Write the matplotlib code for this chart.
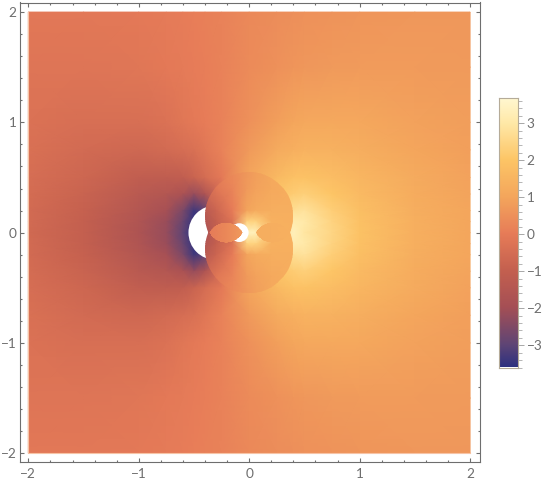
import numpy as np
import matplotlib
matplotlib.use("Agg")
import matplotlib.pyplot as plt
from matplotlib.colors import LinearSegmentedColormap, Normalize
from matplotlib.patches import Circle, Polygon
from matplotlib.ticker import MultipleLocator, FuncFormatter

plt.rcParams['font.family'] = ['Lato', 'DejaVu Sans']

# values
vmin, vmax = -3.6, 3.68
bar_values = [-3.6, -3.0, -2.0, -1.0, 0.0, 1.0, 2.0, 3.0, 3.68]
bar_colors = ['#2e3180', '#5f4575', '#a54f55', '#c4604f', '#e77c58',
              '#f4a65c', '#fdc566', '#ffe9a8', '#fff8d2']

# field outside the discs, top half (the picture mirrors about y=0)
xs = [-2, -1.5, -1, -.75, -.6, -.5, -.4, -.25, 0, .25, .4, .5, .75, 1, 1.5, 2]
ys_top = [2, 1.5, 1, .75, .5, .35, .2, .1, 0]
field_top = [
    [-.15, -.15, -.1, -.05, 0, .05, .1, .15, .3, .4, .45, .5, .55, .6, .65, .65],
    [-.25, -.25, -.2, -.1, -.05, 0, .05, .15, .35, .5, .6, .65, .7, .75, .75, .7],
    [-.35, -.45, -.45, -.35, -.2, -.1, 0, .15, .5, .85, 1, 1.05, 1.1, 1.05, .9, .8],
    [-.4, -.6, -.7, -.6, -.5, -.4, -.2, .15, .7, 1.15, 1.3, 1.4, 1.35, 1.25, 1, .85],
    [-.5, -.75, -1.1, -1.15, -1.1, -.85, -.55, -.1, 1, 1.6, 1.85, 1.9, 1.75, 1.5, 1.15, .9],
    [-.55, -.85, -1.35, -1.55, -1.8, -2.2, -1.7, -.5, 1.2, 2.0, 2.2, 2.3, 2.0, 1.65, 1.2, .95],
    [-.6, -.95, -1.55, -1.95, -2.6, -3.4, -3, -1, 1.5, 2.4, 2.7, 2.8, 2.25, 1.8, 1.25, 1],
    [-.6, -1, -1.65, -2.15, -2.85, -3.5, -3.2, -1, 1.7, 2.6, 3.1, 3, 2.4, 1.85, 1.3, 1],
    [-.65, -1, -1.7, -2.2, -3.0, -3.6, -3.2, -1, 1.8, 2.7, 3.3, 2.9, 2.45, 1.9, 1.3, 1],
]

# field inside the two discs
disc_xs = [-.42, -.3, -.15, -.02, .06, .2, .42]
disc_ys_top = [.6, .4, .2, .1, 0]
disc_top = [
    [.1, .2, .35, .65, .8, 1.05, 1.3],
    [-.6, -.2, .2, .7, .9, 1.1, 1.3],
    [-1.4, -.8, 0, .95, 1.15, 1.25, 1.3],
    [-1.7, -1.0, -.3, 2.4, 2.4, 1.35, 1.3],
    [-1.8, -1.2, -.5, 3.3, 3.3, 1.4, 1.3],
]

# the two small lenses
lens_xs = [-.36, -.2, -.06]
lens_vals = [-.05, .3, .7]
rlens_xs = [.06, .2, .36]
rlens_vals = [1.25, 1.25, 1.3]

disc_centers = [.15, -.15]
disc_r = .4


def mirror(ys, vals):
    y = np.concatenate([ys, -np.array(ys[-2::-1])])
    v = np.array(vals, dtype=float)
    return y, np.vstack([v, v[-2::-1]])


def lens_outline(x0, x1, half_h=.09):
    # outline of a lens with its tips on the x axis
    a = (x1 - x0) / 2
    r = (a**2 + half_h**2) / (2 * half_h)
    t = np.linspace(-np.arcsin(a / r), np.arcsin(a / r), 60)
    px = (x0 + x1) / 2 + r * np.sin(t)
    py = r * np.cos(t) - (r - half_h)
    return np.column_stack([np.concatenate([px, px[::-1]]),
                            np.concatenate([py, -py[::-1]])])


cmap = LinearSegmentedColormap.from_list(
    'bar', [((v - vmin) / (vmax - vmin), c) for v, c in zip(bar_values, bar_colors)], N=512)
norm = Normalize(vmin, vmax)
gray = '#6e6e6e'

fig = plt.figure(figsize=(5.5, 4.83), dpi=100)
ax = fig.add_axes([19.5 / 550, 21 / 483, 460.5 / 550, 459.5 / 483])

y, z = mirror(ys_top, field_top)
ax.pcolormesh(xs, y, z, cmap=cmap, norm=norm, shading='gouraud', zorder=1)
# pale edge the reference has on its left and bottom sides
ax.plot([-2, -2, 2], [2, -2, -2], color='#f7c4a6', lw=.8, zorder=1.5)

# hole on the left
ax.add_patch(Circle((-.303, 0), .247, fc='white', ec='none', zorder=2))

dy, dz = mirror(disc_ys_top, disc_top)
for cy in disc_centers:
    m = ax.pcolormesh(disc_xs, dy, dz, cmap=cmap, norm=norm, shading='gouraud', zorder=3)
    m.set_clip_path(Circle((0, cy), disc_r, transform=ax.transData))

# hot spot in the middle
ax.add_patch(Circle((-.09, 0), .085, fc='white', ec='none', zorder=4))

for lx, lv in [(lens_xs, lens_vals), (rlens_xs, rlens_vals)]:
    m = ax.pcolormesh(lx, [-.1, .1], [lv, lv], cmap=cmap, norm=norm, shading='gouraud', zorder=5)
    m.set_clip_path(Polygon(lens_outline(lx[0], lx[-1]), transform=ax.transData))

ax.set_xlim(-2.08, 2.09)
ax.set_ylim(-2.08, 2.087)

fmt = FuncFormatter(lambda v, p: f'{v:.0f}'.replace('-', '\u2212'))
for a in (ax.xaxis, ax.yaxis):
    a.set_major_locator(MultipleLocator(1))
    a.set_minor_locator(MultipleLocator(.2))
    a.set_major_formatter(fmt)
ax.tick_params(which='major', direction='in', length=3.2, width=.8, color=gray,
               labelcolor=gray, labelsize=9.8, top=True, right=True, pad=2)
ax.tick_params(axis='x', which='major', pad=4)
ax.tick_params(which='minor', direction='in', length=1.7, width=.8, color=gray,
               top=True, right=True)
for s in ax.spines.values():
    s.set_color(gray)
    s.set_linewidth(.8)

cax = fig.add_axes([499 / 550, (483 - 367.5) / 483, 18.5 / 550, 269.5 / 483])
grad = np.linspace(vmin, vmax, 256).reshape(-1, 1)
cax.imshow(grad, aspect='auto', origin='lower', cmap=cmap, norm=norm,
           extent=[0, 1, vmin, vmax])
cax.set_xticks([])
cax.yaxis.tick_right()
cax.yaxis.set_major_locator(MultipleLocator(1))
cax.yaxis.set_minor_locator(MultipleLocator(.2))
cax.yaxis.set_major_formatter(fmt)
cax.tick_params(which='major', direction='out', length=4.5, width=.6, color='#999999',
                labelcolor=gray, labelsize=9.8, pad=2)
cax.tick_params(which='minor', direction='out', length=3, width=.6, color='#aaaaaa')
for s in cax.spines.values():
    s.set_color('#b5ab98')
    s.set_linewidth(.8)

fig.savefig('out.png', dpi=100)
